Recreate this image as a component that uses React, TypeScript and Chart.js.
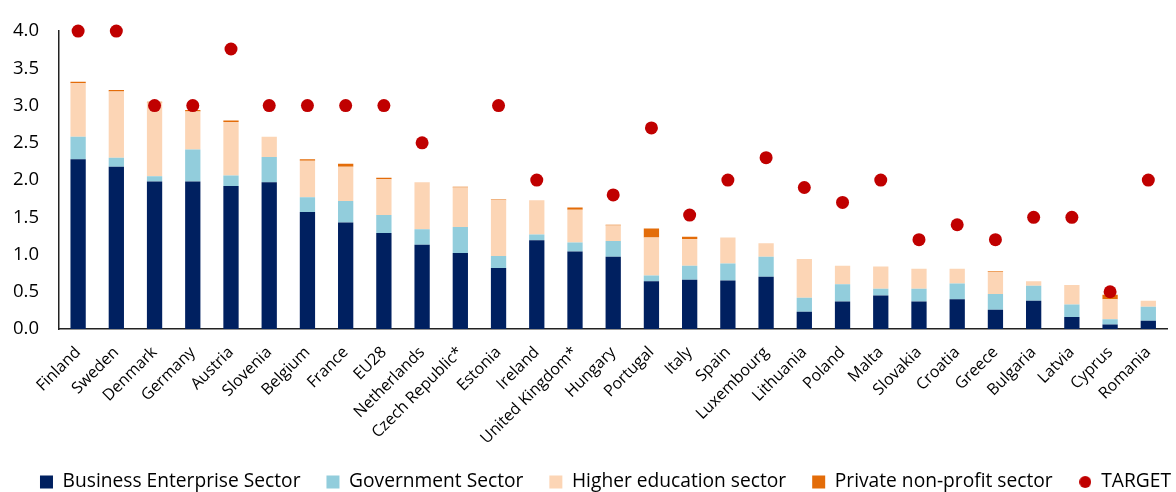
import { useEffect, useRef } from 'react';
import { Chart, registerables } from 'chart.js';

Chart.register(...registerables);

const categories = [
  'Finland', 'Sweden', 'Denmark', 'Germany', 'Austria', 'Slovenia', 'Belgium', 'France', 'EU28',
  'Netherlands', 'Czech Republic*', 'Estonia', 'Ireland', 'United Kingdom*', 'Hungary', 'Portugal',
  'Italy', 'Spain', 'Luxembourg', 'Lithuania', 'Poland', 'Malta', 'Slovakia', 'Croatia', 'Greece',
  'Bulgaria', 'Latvia', 'Cyprus', 'Romania',
];

const businessEnterprise = [
  2.28, 2.18, 1.98, 1.98, 1.92, 1.97, 1.57, 1.43, 1.29, 1.13, 1.02, 0.82, 1.19, 1.04, 0.97, 0.64,
  0.66, 0.65, 0.70, 0.23, 0.37, 0.45, 0.37, 0.40, 0.26, 0.38, 0.16, 0.06, 0.11,
];

const government = [
  0.30, 0.12, 0.07, 0.43, 0.14, 0.34, 0.20, 0.29, 0.24, 0.21, 0.35, 0.16, 0.08, 0.12, 0.21, 0.08,
  0.19, 0.23, 0.27, 0.19, 0.23, 0.09, 0.17, 0.21, 0.21, 0.20, 0.17, 0.07, 0.19,
];

const higherEducation = [
  0.72, 0.89, 0.99, 0.51, 0.72, 0.27, 0.49, 0.46, 0.48, 0.63, 0.53, 0.75, 0.46, 0.44, 0.21, 0.51,
  0.36, 0.35, 0.18, 0.52, 0.25, 0.30, 0.27, 0.20, 0.30, 0.06, 0.26, 0.27, 0.08,
];

const privateNonProfit = [
  0.02, 0.02, 0.01, 0.02, 0.02, 0, 0.02, 0.04, 0.02, 0, 0.01, 0.01, 0, 0.03, 0.01, 0.12,
  0.03, 0, 0, 0, 0, 0, 0, 0, 0.01, 0, 0, 0.06, 0,
];

const target: (number | null)[] = [
  4.0, 4.0, 3.0, 3.0, 3.76, 3.0, 3.0, 3.0, 3.0, 2.5, null, 3.0, 2.0, null, 1.8, 2.7,
  1.53, 2.0, 2.3, 1.9, 1.7, 2.0, 1.2, 1.4, 1.2, 1.5, 1.5, 0.5, 2.0,
];

const seriesNames = [
  'Business Enterprise Sector',
  'Government Sector',
  'Higher education sector',
  'Private non-profit sector',
  'TARGET',
];

const COLORS = {
  business: '#002060',
  government: '#92CDDC',
  higher: '#FCD5B5',
  private: '#E36C09',
  target: '#C00000',
};

const FONT = '"Open Sans", Lato, "DejaVu Sans", sans-serif';
const LEGEND_PADDING = 26;
const LEGEND_CENTER_X = 605.5;

function makeDot(diameter: number, color: string): HTMLCanvasElement {
  const c = document.createElement('canvas');
  const s = Math.ceil(diameter);
  c.width = s;
  c.height = s;
  const ctx = c.getContext('2d')!;
  ctx.fillStyle = color;
  ctx.beginPath();
  ctx.arc(s / 2, s / 2, diameter / 2, 0, Math.PI * 2);
  ctx.fill();
  return c;
}

export default function App() {
  const canvasRef = useRef<HTMLCanvasElement | null>(null);

  useEffect(() => {
    if (!canvasRef.current) return;
    const dot = makeDot(12, COLORS.target);

    const legendTweak = {
      id: 'legendTweak',
      beforeLayout(chart: any) {
        const lg = chart.legend;
        if (lg && !lg._patched) {
          const f = lg.fit.bind(lg);
          lg.fit = () => {
            const mw = lg.maxWidth;
            lg.maxWidth = mw + 200;
            f();
            lg.maxWidth = mw;
            lg.height = Math.max(0, lg.height - 9.6);
          };
          lg._patched = true;
        }
      },
      afterLayout(chart: any) {
        const lg = chart.legend;
        if (lg && lg.lineWidths) {
          const L = lg.lineWidths[0];
          const p = LEGEND_PADDING;
          const start = LEGEND_CENTER_X - (L - p) / 2;
          const right = chart.width + 300;
          lg.right = right;
          lg.left = 2 * start - p - right + L;
          lg.width = lg.right - lg.left;
        }
      },
    };

    const barBase = {
      type: 'bar' as const,
      stack: 'sectors',
      borderWidth: 0,
      barPercentage: 0.4,
      categoryPercentage: 1,
      order: 1,
    };

    const chart = new Chart(canvasRef.current, {
      type: 'bar',
      data: {
        labels: categories,
        datasets: [
          { ...barBase, label: seriesNames[0], data: businessEnterprise, backgroundColor: COLORS.business },
          { ...barBase, label: seriesNames[1], data: government, backgroundColor: COLORS.government },
          { ...barBase, label: seriesNames[2], data: higherEducation, backgroundColor: COLORS.higher },
          { ...barBase, label: seriesNames[3], data: privateNonProfit, backgroundColor: COLORS.private },
          {
            type: 'line' as const,
            label: seriesNames[4],
            data: target,
            stack: 'target',
            showLine: false,
            pointRadius: 6.5,
            pointHoverRadius: 6.5,
            pointBackgroundColor: COLORS.target,
            pointBorderWidth: 0,
            borderColor: COLORS.target,
            backgroundColor: COLORS.target,
            clip: false as any,
            order: 0,
          } as any,
        ],
      },
      options: {
        animation: false,
        responsive: true,
        maintainAspectRatio: false,
        layout: { padding: { top: 25, right: 1, left: 0, bottom: 0 } },
        plugins: {
          tooltip: { enabled: false },
          legend: {
            position: 'bottom',
            labels: {
              usePointStyle: true,
              boxHeight: 13,
              boxWidth: 13,
              padding: LEGEND_PADDING,
              color: '#000',
              font: { family: FONT, size: 19.2 },
              sort: (a: any, b: any) => a.datasetIndex - b.datasetIndex,
              generateLabels: (ch: any) => {
                const items = (Chart.defaults.plugins.legend.labels.generateLabels as any)(ch);
                return items.map((it: any) => ({
                  ...it,
                  pointStyle: it.datasetIndex === 4 ? dot : 'rect',
                  lineWidth: 0,
                  strokeStyle: 'rgba(0,0,0,0)',
                }));
              },
            },
          },
        },
        scales: {
          x: {
            stacked: true,
            grid: { display: false, drawTicks: false },
            border: { display: true, color: '#222', width: 1.5 },
            ticks: {
              autoSkip: false,
              minRotation: 45,
              maxRotation: 45,
              padding: 14,
              color: '#000',
              font: { family: FONT, size: 16 },
            },
            afterFit: (s: any) => {
              s.height = 117.4;
            },
          },
          y: {
            stacked: true,
            min: 0,
            max: 4,
            grid: { display: false, drawTicks: false },
            border: { display: true, color: '#222', width: 1.5 },
            ticks: {
              stepSize: 0.5,
              padding: 20,
              color: '#000',
              font: { family: FONT, size: 18.5 },
              callback: (v: any) => Number(v).toFixed(1),
            },
            afterFit: (s: any) => {
              s.width = 59;
            },
          },
        },
      },
      plugins: [legendTweak],
    });

    return () => {
      chart.destroy();
    };
  }, []);

  return (
    <div style={{ position: 'fixed', left: 0, top: 0, width: 1176, height: 492, background: '#fff' }}>
      <canvas ref={canvasRef} />
    </div>
  );
}
